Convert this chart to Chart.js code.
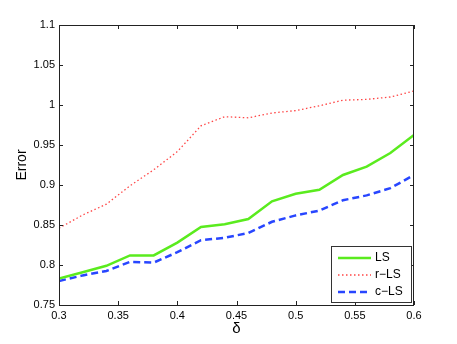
<!DOCTYPE html>
<html>
<head>
<meta charset="utf-8">
<script src="https://cdn.jsdelivr.net/npm/chart.js@4/dist/chart.umd.min.js"></script>
<style>
  html, body { margin: 0; padding: 0; background: #fff; }
  #wrap { width: 457px; height: 344px; }
</style>
</head>
<body>
<div id="wrap"><canvas id="chart" width="457" height="344"></canvas></div>
<script>
// values
const delta = [0.30, 0.32, 0.34, 0.36, 0.38, 0.40, 0.42, 0.44, 0.46, 0.48, 0.50, 0.52, 0.54, 0.56, 0.58, 0.60];
const errLS  = [0.783, 0.791, 0.799, 0.812, 0.812, 0.828, 0.8475, 0.851, 0.8575, 0.8796, 0.889, 0.894, 0.9125, 0.923, 0.940, 0.9625];
const errRLS = [0.846, 0.8625, 0.876, 0.899, 0.919, 0.9417, 0.974, 0.9854, 0.984, 0.990, 0.993, 0.999, 1.006, 1.007, 1.010, 1.0175];
const errCLS = [0.780, 0.787, 0.7925, 0.804, 0.803, 0.816, 0.831, 0.834, 0.840, 0.854, 0.862, 0.868, 0.881, 0.887, 0.896, 0.9125];

const xTicks = [0.3, 0.35, 0.4, 0.45, 0.5, 0.55, 0.6];
const yTicks = [0.75, 0.8, 0.85, 0.9, 0.95, 1, 1.05, 1.1];

const FONT = "'Liberation Sans', Arial, sans-serif";
const AXIS_COLOR = "#222";

const pts = (ys) => delta.map((d, i) => ({ x: d, y: ys[i] }));

// box around plot with inward ticks (matlab style) + legend in lower right
const matlabFrame = {
  id: "matlabFrame",
  afterDraw(chart) {
    const { ctx, chartArea: a, scales } = chart;
    ctx.save();
    ctx.strokeStyle = AXIS_COLOR;
    ctx.lineWidth = 1;
    ctx.strokeRect(a.left + 0.5, a.top + 0.5, a.right - a.left - 1, a.bottom - a.top);
    const tl = 4;
    ctx.beginPath();
    xTicks.forEach((v) => {
      const px = Math.round(scales.x.getPixelForValue(v)) + 0.5;
      ctx.moveTo(px, a.bottom); ctx.lineTo(px, a.bottom - tl);
      ctx.moveTo(px, a.top); ctx.lineTo(px, a.top + tl);
    });
    yTicks.forEach((v) => {
      const py = Math.round(scales.y.getPixelForValue(v)) + 0.5;
      ctx.moveTo(a.left, py); ctx.lineTo(a.left + tl, py);
      ctx.moveTo(a.right, py); ctx.lineTo(a.right - tl, py);
    });
    ctx.stroke();

    // legend
    const bx = 331, by = 246, bw = 80, bh = 56;
    ctx.fillStyle = "#fff";
    ctx.fillRect(bx, by, bw, bh);
    ctx.strokeStyle = "#333";
    ctx.strokeRect(bx + 0.5, by + 0.5, bw, bh);
    ctx.font = "12px " + FONT;
    ctx.textBaseline = "middle";
    ctx.textAlign = "left";
    chart.data.datasets.forEach((ds, i) => {
      const y = by + 12 + i * 17;
      ctx.beginPath();
      ctx.strokeStyle = ds.borderColor;
      ctx.lineWidth = ds.borderWidth;
      ctx.setLineDash(ds.borderDash || []);
      ctx.moveTo(338, y);
      ctx.lineTo(371, y);
      ctx.stroke();
      ctx.setLineDash([]);
      ctx.fillStyle = "#000";
      ctx.fillText(ds.label, 375, y);
    });
    ctx.restore();
  }
};

new Chart(document.getElementById("chart"), {
  type: "line",
  data: {
    datasets: [
      {
        label: "LS",
        data: pts(errLS),
        borderColor: "rgb(90,235,30)",
        borderWidth: 2.5,
        pointRadius: 0,
        tension: 0
      },
      {
        label: "r\u2212LS",
        data: pts(errRLS),
        borderColor: "rgb(255,70,70)",
        borderWidth: 1.3,
        borderDash: [1.5, 2.5],
        pointRadius: 0,
        tension: 0
      },
      {
        label: "c\u2212LS",
        data: pts(errCLS),
        borderColor: "rgb(40,70,255)",
        borderWidth: 2.5,
        borderDash: [7, 4],
        pointRadius: 0,
        tension: 0
      }
    ]
  },
  options: {
    responsive: false,
    animation: false,
    layout: { padding: { left: 0, top: 25, right: 43, bottom: 0 } },
    plugins: {
      legend: { display: false },
      tooltip: { enabled: false }
    },
    scales: {
      x: {
        type: "linear",
        min: 0.3,
        max: 0.6,
        afterBuildTicks: (s) => { s.ticks = xTicks.map((v) => ({ value: v })); },
        afterFit: (s) => { s.height = 39; },
        grid: { display: false, drawTicks: false },
        border: { display: false },
        ticks: {
          padding: 4,
          color: "#000",
          font: { family: FONT, size: 11 },
          maxRotation: 0,
          callback: (v) => String(+v.toFixed(2))
        },
        title: {
          display: true,
          text: "\u03b4",
          color: "#000",
          font: { family: FONT, size: 15 },
          padding: { top: 0, bottom: 6 }
        }
      },
      y: {
        min: 0.75,
        max: 1.1,
        afterBuildTicks: (s) => { s.ticks = yTicks.map((v) => ({ value: v })); },
        afterFit: (s) => { s.width = 59; },
        grid: { display: false, drawTicks: false },
        border: { display: false },
        ticks: {
          padding: 4,
          color: "#000",
          font: { family: FONT, size: 11 },
          callback: (v) => String(+v.toFixed(2))
        },
        title: {
          display: true,
          text: "Error",
          color: "#000",
          font: { family: FONT, size: 14 },
          padding: { top: 14, bottom: 0 }
        }
      }
    }
  },
  plugins: [matlabFrame]
});
</script>
</body>
</html>
